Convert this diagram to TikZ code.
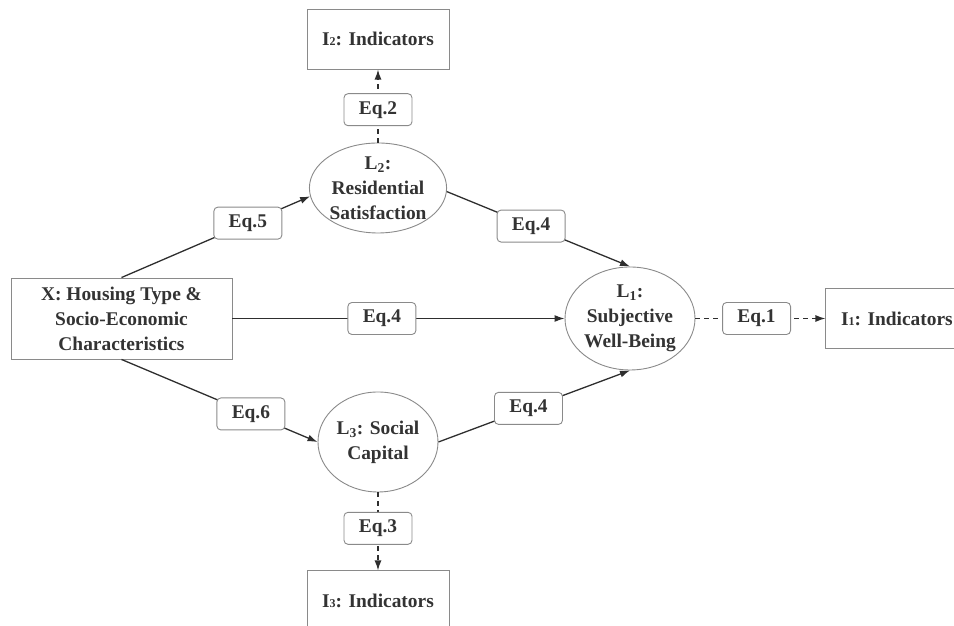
\documentclass[tikz,border=0pt]{standalone}
\usepackage{fontspec}
\setmainfont{Liberation Serif}[BoldFont={Liberation Serif Bold}]
\usepackage{xcolor}
\usepackage{tikz}
\usetikzlibrary{arrows.meta,positioning,shapes.geometric}
\definecolor{pathInk}{HTML}{2E2E2E}
\definecolor{frameGray}{HTML}{8A8A8A}
\definecolor{textInk}{HTML}{333333}
\newcommand{\smalldig}[1]{{\fontsize{12}{12}\selectfont #1}}

\begin{document}
\begin{tikzpicture}[
  x=1pt,y=1pt,
  node distance=73pt and 131pt,
  font=\rmfamily\bfseries\fontsize{19.4}{25}\selectfont,
  every node/.style={text=textInk},
  varbox/.style={rectangle,draw=frameGray,fill=white,line width=0.9pt,align=center,minimum width=221pt,minimum height=81pt,inner sep=0pt},
  indbox/.style={rectangle,draw=frameGray,fill=white,line width=0.9pt,align=center,minimum width=142pt,minimum height=60pt,inner sep=0pt},
  latent/.style={ellipse,draw=frameGray,fill=white,line width=0.9pt,align=center,inner sep=0pt},
  eqtag/.style={rectangle,solid,rounded corners=4pt,draw=frameGray,fill=white,line width=0.9pt,minimum width=68pt,minimum height=32pt,inner sep=0pt},
  arrow/.style={-{Latex[length=10pt,width=7pt]},line width=1.3pt,color=pathInk},
  dasharrow/.style={arrow,dash pattern=on 5pt off 4pt}
]
\useasboundingbox (0,0) rectangle (954,626);
\node[varbox] (housing) at (121.5,307.5) {X: Housing Type \&\\Socio-Economic\\Characteristics};
\node[latent,minimum width=130pt,minimum height=90pt] (resid) at (378,438) {L\textsubscript{2}:\\Residential\\Satisfaction};
\node[latent,minimum width=130pt,minimum height=103pt] (wellbeing) at (630,307.5) {L\textsubscript{1}:\\Subjective\\Well-Being};
\node[latent,minimum width=120pt,minimum height=100pt] (social) at (378,184) {L\textsubscript{3}: Social\\Capital};
\node[indbox,above=73pt of resid] (ind2) {I\smalldig{2}: Indicators};
\node[indbox,right=130pt of wellbeing] (ind1) {I\smalldig{1}: Indicators};
\node[indbox,below=78pt of social] (ind3) {I\smalldig{3}: Indicators};
\draw[arrow] (housing.north) -- node[eqtag,pos=0.67] {Eq.5} (resid.187);
\draw[arrow] (housing.south) -- node[eqtag,pos=0.66] {Eq.6} (social.west);
\draw[arrow] (housing.east) -- node[eqtag,pos=0.45] {Eq.4} (wellbeing.west);
\draw[arrow] (resid.357) -- node[eqtag,pos=0.46] {Eq.4} (wellbeing.north);
\draw[arrow] (social.east) -- node[eqtag,pos=0.47] {Eq.4} (wellbeing.south);
\draw[dasharrow] (wellbeing.east) -- node[eqtag,pos=0.47] {Eq.1} (ind1.west);
\draw[dasharrow] (resid.north) -- node[eqtag,pos=0.45] {Eq.2} (ind2.south);
\draw[dasharrow] (social.south) -- node[eqtag,pos=0.46] {Eq.3} (ind3.north);
\end{tikzpicture}
\end{document}
